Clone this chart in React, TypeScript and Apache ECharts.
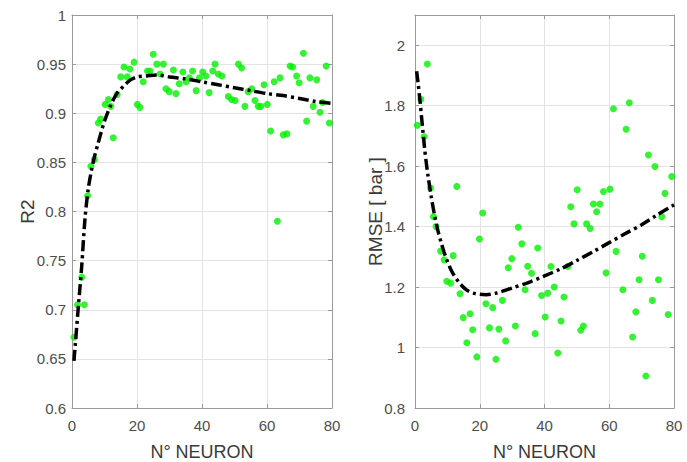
import React, { useEffect, useRef } from "react";
import * as echarts from "echarts";

// Left panel: R2 vs number of neurons
const r2Points: number[][] = [
  [0.6, 0.672], [1.7, 0.705], [3.8, 0.705], [3, 0.733], [4.8, 0.816], [5.8, 0.846], [6.9, 0.853],
  [8.1, 0.890], [8.8, 0.894], [10.2, 0.909], [11.2, 0.914], [11.9, 0.907], [12.7, 0.875], [13.9, 0.919],
  [15, 0.937], [16, 0.947], [17, 0.937], [17.8, 0.945], [19.1, 0.952], [20.1, 0.909], [20.9, 0.906],
  [21.9, 0.932], [23.2, 0.943], [24, 0.943], [25, 0.960], [26.1, 0.950], [27.1, 0.940], [28.1, 0.950],
  [28.9, 0.925], [29.9, 0.922], [31.2, 0.944], [32, 0.920], [33, 0.930], [34.1, 0.942], [35.1, 0.932],
  [36.1, 0.936], [37.1, 0.943], [38.2, 0.923], [39.2, 0.936], [40.2, 0.942], [41.2, 0.938], [42.2, 0.921],
  [43.3, 0.943], [44, 0.950], [45, 0.940], [46.1, 0.938], [48.1, 0.917], [49.1, 0.914], [50.2, 0.913],
  [51.2, 0.950], [52.2, 0.946], [53.2, 0.907], [54.2, 0.922], [55.3, 0.925], [56.3, 0.913], [57.3, 0.907],
  [58.1, 0.907], [59.1, 0.929], [60.1, 0.909], [61.1, 0.882], [62.2, 0.932], [63.2, 0.790], [64, 0.936],
  [65, 0.878], [66.1, 0.879], [67.1, 0.948], [67.9, 0.947], [69.1, 0.938], [69.9, 0.931], [71.2, 0.961],
  [72.2, 0.892], [73.2, 0.936], [74.2, 0.907], [75.3, 0.934], [76.3, 0.901], [77.1, 0.911], [78.2, 0.948],
  [79.2, 0.890], [80.2, 0.942],
];
const r2CurveX = [0.6, 1, 2, 3, 4, 5, 6, 7, 8, 9, 10, 12, 14, 16, 18, 20, 23, 26, 30, 35, 40, 45, 50, 55, 60, 65, 70, 75, 80];
const r2CurveY = [0.648, 0.664, 0.705, 0.745, 0.793, 0.823, 0.842, 0.857, 0.869, 0.881, 0.892, 0.909, 0.921, 0.928, 0.934, 0.937, 0.938, 0.939, 0.937, 0.935, 0.932, 0.929, 0.926, 0.923, 0.920, 0.918, 0.915, 0.912, 0.910];

// Right panel: RMSE vs number of neurons
const rmsePoints: number[][] = [
  [0.7, 1.735], [1.8, 1.821], [2.8, 1.697], [3.8, 1.938], [4.8, 1.528], [5.7, 1.433], [6.5, 1.400],
  [7.9, 1.319], [9, 1.290], [9.8, 1.219], [11, 1.213], [11.8, 1.304], [12.9, 1.533], [13.9, 1.178],
  [14.9, 1.099], [16, 1.016], [17, 1.112], [17.8, 1.059], [19.1, 0.969], [19.9, 1.359], [20.9, 1.445],
  [21.9, 1.145], [23, 1.065], [24, 1.132], [25, 0.961], [25.9, 1.061], [27, 1.156], [28, 1.022],
  [28.8, 1.264], [29.9, 1.294], [31, 1.071], [31.9, 1.398], [33, 1.343], [34, 1.191], [34.8, 1.269],
  [36, 1.246], [37.1, 1.046], [37.9, 1.329], [39.1, 1.172], [40.2, 1.101], [41, 1.180], [42, 1.268],
  [43, 1.200], [44.1, 0.982], [45.1, 1.088], [46, 1.167], [47.2, 1.268], [48.1, 1.466], [49.1, 1.409],
  [50.1, 1.522], [51.2, 1.057], [52, 1.071], [53, 1.409], [54.1, 1.394], [55.1, 1.475], [56.1, 1.449],
  [57.1, 1.475], [58.2, 1.516], [59, 1.247], [60.2, 1.524], [61.3, 1.790], [62.1, 1.318], [64.2, 1.191],
  [65.2, 1.722], [66.2, 1.810], [67.2, 1.035], [68.2, 1.118], [69.2, 1.224], [70.2, 1.302], [71.3, 0.906],
  [72.1, 1.637], [73.3, 1.156], [74.1, 1.599], [75.2, 1.224], [76.2, 1.433], [77.2, 1.510], [78.2, 1.109],
  [79.3, 1.566], [80.3, 1.181],
];
const rmseCurveX = [0.5, 1, 1.5, 2, 3, 3.5, 4, 5, 6, 7, 8, 9, 10, 11, 12, 14, 16, 18, 20, 22, 25, 30, 35, 40, 45, 50, 55, 60, 65, 70, 75, 80];
const rmseCurveY = [1.914, 1.87, 1.82, 1.765, 1.655, 1.61, 1.57, 1.50, 1.44, 1.39, 1.35, 1.315, 1.285, 1.26, 1.24, 1.21, 1.19, 1.18, 1.176, 1.175, 1.18, 1.197, 1.215, 1.237, 1.26, 1.288, 1.317, 1.347, 1.377, 1.406, 1.44, 1.472];

const xTicks = { min: 0, max: 80, interval: 20 };
const xName = "N° NEURON";
const leftYName = "R2";
const rightYName = "RMSE [ bar ]";

const FONT = "Liberation Sans, Arial, sans-serif";
const AXIS_COLOR = "#9a9a9a";
const LABEL_COLOR = "#4d4d4d";
const GRID_COLOR = "#e3e3e3";
const GREEN = "#00f000";

function mainX(gridIndex: number) {
  return {
    type: "value", gridIndex, position: "bottom",
    min: xTicks.min, max: xTicks.max, interval: xTicks.interval,
    name: xName, nameLocation: "middle", nameGap: 35, nameMoveOverlap: false,
    nameTextStyle: { fontFamily: FONT, fontSize: 18, color: "#3a3a3a" },
    axisLine: { show: true, onZero: false, lineStyle: { color: AXIS_COLOR, width: 1 } },
    axisTick: { show: true, inside: true, length: 4, lineStyle: { color: AXIS_COLOR } },
    axisLabel: { fontFamily: FONT, fontSize: 15, color: LABEL_COLOR, margin: 10 },
    splitLine: { show: true, lineStyle: { color: GRID_COLOR, width: 1 } },
  };
}
function boxX(gridIndex: number) {
  return {
    type: "value", gridIndex, position: "top",
    min: xTicks.min, max: xTicks.max, interval: xTicks.interval,
    axisLine: { show: true, onZero: false, lineStyle: { color: AXIS_COLOR, width: 1 } },
    axisTick: { show: true, inside: true, length: 4, lineStyle: { color: AXIS_COLOR } },
    axisLabel: { show: false },
    splitLine: { show: false },
  };
}
function mainY(gridIndex: number, min: number, max: number, interval: number, name: string, nameGap: number, margin: number) {
  return {
    type: "value", gridIndex, position: "left", min, max, interval,
    name, nameLocation: "middle", nameGap, nameMoveOverlap: false,
    nameTextStyle: { fontFamily: FONT, fontSize: 19, color: "#3a3a3a" },
    axisLine: { show: true, onZero: false, lineStyle: { color: AXIS_COLOR, width: 1 } },
    axisTick: { show: true, inside: true, length: 4, lineStyle: { color: AXIS_COLOR } },
    axisLabel: { fontFamily: FONT, fontSize: 15, color: LABEL_COLOR, margin, showMaxLabel: max === 1 },
    splitLine: { show: true, lineStyle: { color: GRID_COLOR, width: 1 } },
  };
}
function boxY(gridIndex: number, min: number, max: number, interval: number) {
  return {
    type: "value", gridIndex, position: "right", min, max, interval,
    axisLine: { show: true, onZero: false, lineStyle: { color: AXIS_COLOR, width: 1 } },
    axisTick: { show: true, inside: true, length: 4, lineStyle: { color: AXIS_COLOR } },
    axisLabel: { show: false },
    splitLine: { show: false },
  };
}

export default function App() {
  const ref = useRef<HTMLDivElement>(null);
  useEffect(() => {
    if (!ref.current) return;
    const chart = echarts.init(ref.current, undefined, { renderer: "svg" });
    const dash = [11, 4, 3, 4];
    chart.setOption({
      animation: false,
      backgroundColor: "#ffffff",
      grid: [
        { left: 72, right: 355, top: 15, bottom: 54, containLabel: false, outerBoundsMode: "none" },
        { left: 415, right: 13, top: 15, bottom: 54, containLabel: false, outerBoundsMode: "none" },
      ],
      xAxis: [mainX(0), boxX(0), mainX(1), boxX(1)],
      yAxis: [
        mainY(0, 0.6, 1, 0.05, leftYName, 35, 6),
        boxY(0, 0.6, 1, 0.05),
        mainY(1, 0.8, 2.1, 0.2, rightYName, 30, 10),
        boxY(1, 0.8, 2.1, 0.2),
      ],
      series: [
        {
          type: "scatter", xAxisIndex: 0, yAxisIndex: 0, data: r2Points,
          symbolSize: 7, itemStyle: { color: GREEN }, z: 2,
        },
        {
          type: "line", xAxisIndex: 0, yAxisIndex: 0,
          data: r2CurveX.map((x, i) => [x, r2CurveY[i]]),
          showSymbol: false, smooth: 0.3,
          lineStyle: { color: "#000000", width: 3.5, type: dash }, z: 3,
        },
        {
          type: "scatter", xAxisIndex: 2, yAxisIndex: 2, data: rmsePoints,
          symbolSize: 7, itemStyle: { color: GREEN }, z: 2,
        },
        {
          type: "line", xAxisIndex: 2, yAxisIndex: 2,
          data: rmseCurveX.map((x, i) => [x, rmseCurveY[i]]),
          showSymbol: false, smooth: 0.3,
          lineStyle: { color: "#000000", width: 3.5, type: dash }, z: 3,
        },
      ],
    });
    return () => chart.dispose();
  }, []);
  return <div ref={ref} style={{ width: 687, height: 462, position: "absolute", left: 0, top: 0 }} />;
}
